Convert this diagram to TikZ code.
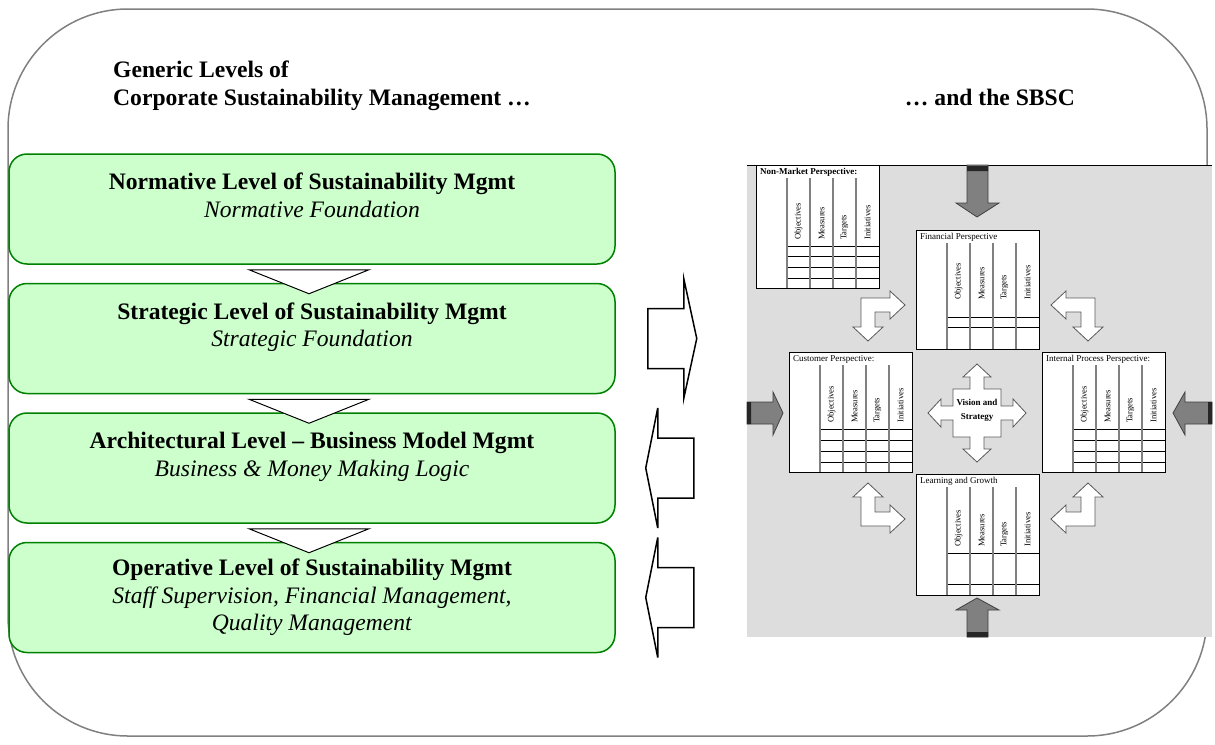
\documentclass[tikz,border=0pt]{standalone}
\usepackage{fontspec}
\setmainfont{Liberation Serif}
\usetikzlibrary{positioning}

\definecolor{levelfill}{RGB}{204,255,204}
\definecolor{leveldraw}{RGB}{0,128,0}
\definecolor{panelgrey}{RGB}{221,221,221}

\tikzset{
  levelbox/.style={draw=leveldraw, fill=levelfill, line width=1.5pt, rounded corners=18pt,
    minimum width=606pt, minimum height=110pt, align=center,
    font=\fontsize{23.6}{27.5}\selectfont},
  heading/.style={font=\bfseries\fontsize{23.6}{27.5}\selectfont, inner sep=0pt},
  downtri/.style={draw, fill=white, line width=1pt},
  blockarrow/.style={draw, fill=white, line width=1.5pt},
  greyarrow/.style={draw=gray!50!black, fill=gray, line width=0.8pt},
  whitearrow/.style={draw=gray!70!black, fill=white, line width=0.8pt},
  tablebox/.style={draw, fill=white, line width=0.6pt},
  tabletitle/.style={font=\fontsize{9}{10}\selectfont, anchor=west, inner sep=0pt},
  collabel/.style={font=\fontsize{8.6}{9}\selectfont, rotate=90, anchor=west, inner sep=0pt}
}

\begin{document}
\begin{tikzpicture}[x=1pt, y=-1pt]
  \useasboundingbox (0,0) rectangle (1215,744);
  % outer frame
  \draw[gray, line width=1.5pt, rounded corners=120pt] (8,9) rectangle (1207,736);

  \node[heading, anchor=base west] (title1) at (113,77) {Generic Levels of};
  \node[heading, anchor=base west] (title2) at (113,105) {Corporate Sustainability Management …};
  \node[heading, anchor=base east] (title3) at (1075,105) {… and the SBSC};

  % levels of sustainability management
  \node[levelbox] (normative) at (312,209)
    {\textbf{Normative Level of Sustainability Mgmt}\\\textit{Normative Foundation}\\\mbox{}};
  \node[levelbox, below=18pt of normative] (strategic)
    {\textbf{Strategic Level of Sustainability Mgmt}\\\textit{Strategic Foundation}\\\mbox{}};
  \node[levelbox, below=18pt of strategic] (architectural)
    {\textbf{Architectural Level -- Business Model Mgmt}\\\textit{Business \& Money Making Logic}\\\mbox{}};
  \node[levelbox, below=18pt of architectural] (operative)
    {\textbf{Operative Level of Sustainability Mgmt}\\\textit{Staff Supervision, Financial Management,}\\\textit{Quality Management}};

  \foreach \a in {normative, strategic, architectural}
    \draw[downtri, shift={(\a.south)}] (-63,5) -- (57,5) -- (-3,29) -- cycle;

  % hollow arrows to and from the scorecard
  \draw[blockarrow, shift={(strategic.east)}] (32,-30) -- (68,-30) -- (68,-60) -- (81,0)
    -- (68,60) -- (68,30) -- (32,30) -- cycle;
  \foreach \a in {architectural, operative}
    \draw[blockarrow, shift={(\a.east)}] (78,-30) -- (42,-30) -- (42,-60) -- (30,0)
      -- (42,60) -- (42,30) -- (78,30) -- cycle;

  % SBSC panel
  \fill[panelgrey] (747,165) rectangle (1212,637);
  \draw[line width=1pt] (747,165) -- (1212,165);

  \foreach \tx/\ty/\th/\lb/\rows/\ttl [count=\i] in {
      756/165/123/75/{81,91,102,113}/\textbf{Non-Market Perspective:},
      916/230/119/70/{87,97}/Financial Perspective,
      789/352/120/71/{77,88,99,110}/Customer Perspective:,
      1042/352/120/71/{77,88,99,110}/Internal Process Perspective:,
      916/474/121/73/{79,110}/Learning and Growth} {
    \draw[tablebox] (\tx,\ty) rectangle ++(123,\th);
    \node[tabletitle] (title-\i) at (\tx+4,\ty+7) {\ttl};
    \foreach \r in \rows
      \draw[line width=0.6pt] (\tx+31,\ty+\r) -- ++(92,0);
    \foreach \c in {31,54,77,100}
      \draw[gray, line width=1.8pt] (\tx+\c,\ty+13) -- (\tx+\c,\ty+\th);
    \foreach \c/\lab [count=\j] in {42.5/Objectives, 65.5/Measures, 88.5/Targets, 111.5/Initiatives}
      \node[collabel] (lab-\i-\j) at (\tx+\c,\ty+\lb) {\lab};
  }

  % vision and strategy
  \draw[whitearrow, shift={(977,413)}] (0,-49) -- (14,-36) -- (7,-36) -- (7,-24) -- (24,-24)
    -- (24,-7) -- (36,-7) -- (36,-14) -- (49,0) -- (36,14) -- (36,7) -- (24,7) -- (24,24)
    -- (7,24) -- (7,36) -- (14,36) -- (0,49) -- (-14,36) -- (-7,36) -- (-7,24) -- (-24,24)
    -- (-24,7) -- (-36,7) -- (-36,14) -- (-49,0) -- (-36,-14) -- (-36,-7) -- (-24,-7)
    -- (-24,-24) -- (-7,-24) -- (-7,-36) -- (-14,-36) -- cycle;
  \node[font=\bfseries\fontsize{9}{14}\selectfont, align=center, inner sep=0pt] (vision)
    at (977,410) {Vision and\\Strategy};

  \foreach \sx/\sy in {1/1, -1/1, 1/-1, -1/-1}
    \draw[whitearrow, shift={(978,412)}, xscale=\sx, yscale=\sy] (-117,-114) -- (-88,-114)
      -- (-88,-121) -- (-73,-107) -- (-88,-93) -- (-88,-100) -- (-103,-100) -- (-103,-85)
      -- (-95,-85) -- (-110,-71) -- (-125,-85) -- (-117,-85) -- cycle;

  % outside influences
  \draw[greyarrow] (967,165) -- (967,203) -- (956,203) -- (977,217) -- (999,203) -- (988,203) -- (988,165) -- cycle;
  \draw[greyarrow] (967,637) -- (967,610) -- (956,610) -- (977,598) -- (999,610) -- (988,610) -- (988,637) -- cycle;
  \draw[greyarrow] (747,402) -- (773,402) -- (773,392) -- (783,413) -- (773,435) -- (773,424) -- (747,424) -- cycle;
  \draw[greyarrow] (1212,402) -- (1185,402) -- (1185,392) -- (1173,413) -- (1185,435) -- (1185,424) -- (1212,424) -- cycle;
  \fill[gray!30!black] (967,166) rectangle (988,171) (967,632) rectangle (988,637)
    (747,402) rectangle (751,424) (1208,402) rectangle (1212,424);
\end{tikzpicture}
\end{document}
